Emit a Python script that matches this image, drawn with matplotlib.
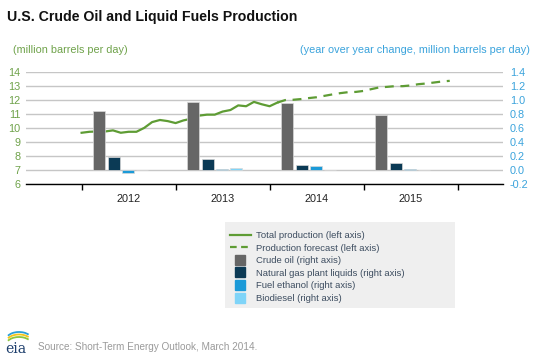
import matplotlib.pyplot as plt
from matplotlib.lines import Line2D
from matplotlib.patches import Rectangle, Arc
import numpy as np

plt.rcParams['font.family'] = ['Liberation Sans', 'DejaVu Sans']

##### data
years = ['2012', '2013', '2014', '2015']

# monthly total production, million b/d (Jan 2012 .. Feb 2014 history)
total_hist = [9.65, 9.72, 9.74, 9.74, 9.82, 9.65, 9.72, 9.72, 10.0, 10.41,
              10.56, 10.48, 10.34, 10.53, 10.65, 10.87, 10.94, 10.94, 11.16,
              11.27, 11.6, 11.54, 11.85, 11.68, 11.54, 11.8]
# forecast, Feb 2014 .. Dec 2015
total_fcst = [11.8, 11.98, 12.0, 12.05, 12.12, 12.18, 12.28, 12.38, 12.47,
              12.54, 12.56, 12.63, 12.76, 12.88, 12.92, 12.97, 12.97, 13.02,
              13.11, 13.16, 13.23, 13.3, 13.35]

# year over year change, million b/d
crude_oil = [0.84, 0.97, 0.95, 0.78]
ngl = [0.19, 0.16, 0.07, 0.10]
ethanol = [-0.05, 0.02, 0.05, 0.015]
biodiesel = [-0.004, 0.033, 0.0, 0.0]

green = '#5e9c34'
bar_colors = ['#666666', '#0b3a55', '#1b9ad8', '#7fd4f8']
bar_labels = ['Crude oil (right axis)', 'Natural gas plant liquids (right axis)',
              'Fuel ethanol (right axis)', 'Biodiesel (right axis)']

##### figure
fig = plt.figure(figsize=(5.38, 3.59), dpi=100)
ax = fig.add_axes([26/538, 1-184/359, (503-26)/538, (184-71.7)/359])
ax2 = ax.twinx()

# bars (right axis)
year_start = np.arange(len(years)) * 12
series = [crude_oil, ngl, ethanol, biodiesel]
for i, vals in enumerate(series):
    ax2.bar(year_start + 5 + (i - 1.5) * 1.83, vals, width=1.53,
            color=bar_colors[i], edgecolor='#d8d8d8', linewidth=0.5, zorder=3)

# lines (left axis)
k_hist = np.arange(len(total_hist))
k_fcst = np.arange(len(total_fcst)) + len(total_hist) - 1
ax.plot(k_hist, total_hist, color=green, lw=1.6, zorder=2)
ax.plot(k_fcst, total_fcst, color=green, lw=1.6, ls=(0, (4, 3)), zorder=2)

ax.set_xlim(-7.1, 53.8)
ax.set_ylim(6, 14)
ax2.set_ylim(-0.2, 1.4)

ax.set_yticks(range(6, 15))
ax2.set_yticks(np.arange(-0.2, 1.41, 0.2))
ax2.set_yticklabels(['%.1f' % v for v in np.arange(-0.2, 1.41, 0.2)])
ax.yaxis.grid(True, color='#c6c6c6', lw=1)
ax.set_axisbelow(True)

ax.set_xticks([0, 12, 24, 36, 48])
ax.set_xticklabels([])
ax.set_xticks([6, 18, 30, 42], minor=True)
ax.set_xticklabels(years, minor=True)
ax.tick_params(axis='x', which='major', length=4, color='black', width=1)
ax.tick_params(axis='x', which='minor', length=0, pad=7.5, labelsize=7.8,
               labelcolor='#222222')
ax.tick_params(axis='y', length=0, pad=4, labelsize=7.8, labelcolor='#6fa24a')
ax2.tick_params(axis='y', length=0, pad=5, labelsize=7.8, labelcolor='#3aa3dc')

for s in ['top', 'left', 'right']:
    ax.spines[s].set_visible(False)
for s in ax2.spines.values():
    s.set_visible(False)
ax.spines['bottom'].set_color('black')
ax.spines['bottom'].set_linewidth(1)

##### texts
fig.text(7/538, 1-17/359, 'U.S. Crude Oil and Liquid Fuels Production',
         fontsize=10.2, fontweight='bold', va='center', ha='left', color='#111111')
fig.text(13/538, 1-50/359, '(million barrels per day)', fontsize=7.8,
         color='#6fa24a', va='center', ha='left')
fig.text(530/538, 1-50/359, '(year over year change, million barrels per day)',
         fontsize=7.8, color='#3aa3dc', va='center', ha='right')
fig.text(38/538, 1-347/359, 'Source: Short-Term Energy Outlook, March 2014.',
         fontsize=7.2, color='#9a9a9a', va='center', ha='left')

# eia logo
fig.text(5/538, 1-349/359, 'eia', family='DejaVu Serif', fontsize=10,
         color='#1d3e6c', va='center', ha='left')
for c, dy in zip(['#8cc63f', '#f5c518', '#2a9fd8'], [0, 2.5, 5]):
    fig.patches.append(Arc((19/538, 1-(345 - dy)/359), 26/538, 16/359,
                           theta1=40, theta2=150, color=c, lw=1.3,
                           transform=fig.transFigure))

##### legend
fig.patches.append(Rectangle((225/538, 1-308/359), 230/538, 86/359,
                             transform=fig.transFigure, facecolor='#efefef',
                             edgecolor='none', zorder=0))
handles = [Line2D([], [], color=green, lw=1.6),
           Line2D([], [], color=green, lw=1.6, ls=(0, (3, 2)))]
for c in bar_colors:
    handles.append(Line2D([], [], marker='s', ls='none', markersize=7,
                          color=c))
labels = ['Total production (left axis)', 'Production forecast (left axis)'] + bar_labels
fig.legend(handles, labels, loc='upper left',
           bbox_to_anchor=(230/538, 1-231/359), frameon=False, fontsize=6.8,
           labelcolor='#3d4d60', handlelength=2.2, handletextpad=0.6,
           labelspacing=0.38, borderpad=0, borderaxespad=0)

plt.savefig('out.png', dpi=100)
